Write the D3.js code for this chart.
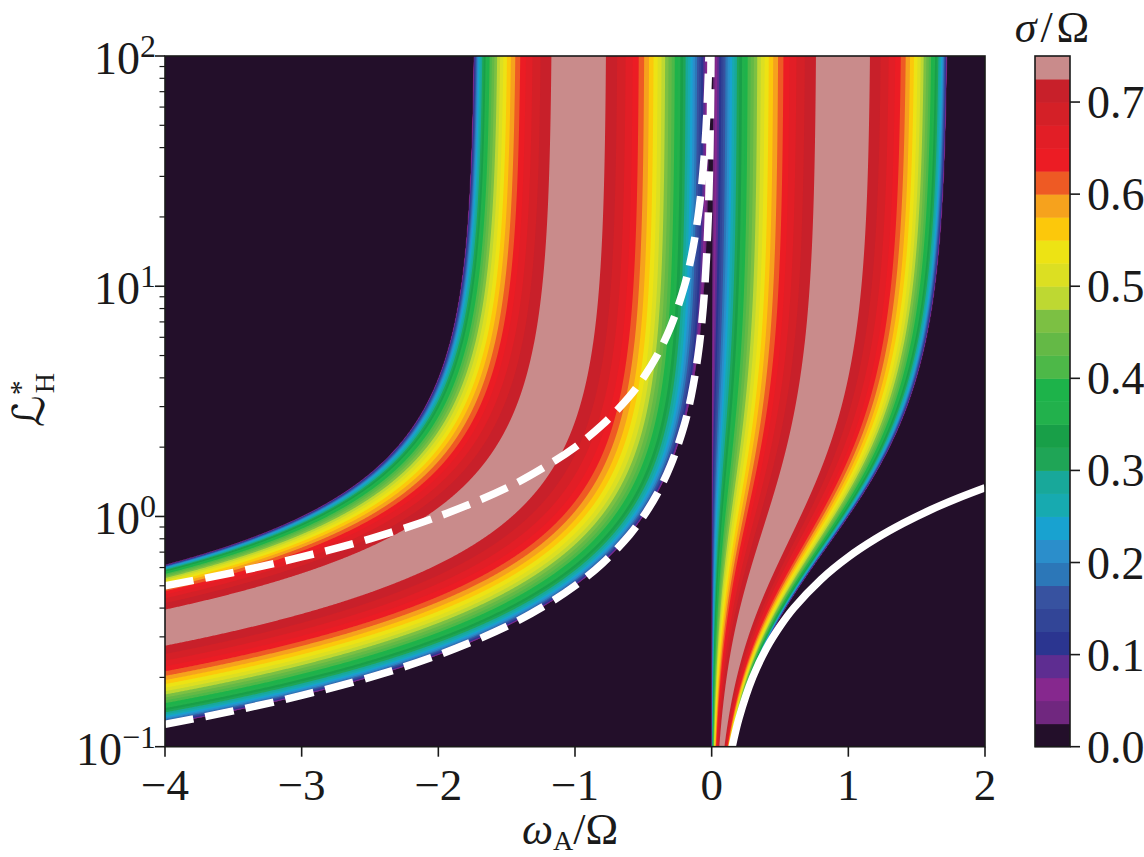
<!DOCTYPE html>
<html lang="en">
<head>
    <meta charset="UTF-8">
    <title>Hall MRI growth rate</title>
    <script src="https://d3js.org/d3.v7.min.js"></script>
    <style>
        body {
            margin: 0;
            background: #ffffff;
        }
        svg text {
            font-family: "Liberation Serif", "DejaVu Serif", serif;
            fill: #1a1a1a;
        }
    </style>
</head>
<body>
    <div id="chart"></div>

    <script>
        // --- data ---
        const xDomain = [-4, 2];            // omega_A / Omega
        const lDomain = [0.1, 100];         // L*_H (log)
        const xTicks = [-4, -3, -2, -1, 0, 1, 2];
        const yTicks = [0.1, 1, 10, 100];
        const yTickExp = ["\u22121", "0", "1", "2"];
        const cbTicks = [0, 0.1, 0.2, 0.3, 0.4, 0.5, 0.6, 0.7];

        // contour levels of sigma/Omega, step 0.025 from 0 to 0.75
        const levels = d3.range(31).map(i => i * 0.025);
        const bandColors = [
            "#230f2a", "#70277f", "#86288e", "#5e2d91", "#2b3590",
            "#324597", "#3752a0", "#2c77b8", "#2b8ecb", "#18a2d0",
            "#17aab0", "#18a89a", "#1fa556", "#189f48", "#22b14c",
            "#1db34a", "#4db848", "#64b946", "#7cc043", "#bed832",
            "#dcdf22", "#ede314", "#fcc80b", "#f6a21d", "#ee5a24",
            "#ec1c24", "#e21e26", "#d42027", "#c8202a", "#c98b8b"
        ];

        // Keplerian shear rate q (Omega = 1)
        const shearQ = 1.5;

        // upper dashed curve
        const dashUpperX = [-4, -3.5, -3, -2.5, -2, -1.5, -1.2, -1, -0.8, -0.6, -0.5, -0.4,
                            -0.3, -0.2, -0.15, -0.1, -0.07, -0.05, -0.035, -0.02];
        const dashUpperL = [0.5, 0.571, 0.667, 0.8, 1.0, 1.33, 1.67, 2.0, 2.5, 3.33, 4.0, 5.0,
                            6.67, 10, 13.3, 20, 28.6, 40, 57, 100];
        // lower dashed curve
        const dashLowerX = [-4, -3.5, -3, -2.5, -2, -1.5, -1.2, -1, -0.8, -0.6, -0.5, -0.4,
                            -0.3, -0.2, -0.15, -0.1, -0.07, -0.05, -0.03, -0.02, -0.01, -0.005];
        const dashLowerL = [0.125, 0.143, 0.167, 0.2, 0.25, 0.333, 0.417, 0.5, 0.625, 0.833, 1.0, 1.25,
                            1.67, 2.5, 3.33, 5, 7.14, 10, 16.7, 25, 50, 100];
        // solid white curve
        const solidX = [0.15, 0.2, 0.3, 0.4, 0.5, 0.6, 0.8, 1.0, 1.2, 1.4, 1.6, 1.8, 2.0];
        const solidL = [0.1, 0.133, 0.2, 0.267, 0.333, 0.4, 0.533, 0.667, 0.8, 0.933, 1.067, 1.2, 1.333];

        // --- layout ---
        const width = 1144, height = 857;
        const plot = { left: 165, right: 985, top: 56, bottom: 746.7 };
        const cb = { left: 1035, right: 1070 };

        const svg = d3.select("#chart").append("svg")
            .attr("width", width)
            .attr("height", height);

        const xScale = d3.scaleLinear().domain(xDomain).range([plot.left, plot.right]);
        const yScale = d3.scaleLog().domain(lDomain).range([plot.bottom, plot.top]);
        const cScale = d3.scaleLinear().domain([0, 0.75]).range([plot.bottom, plot.top]);

        // Hall-MRI dispersion relation: s^2 + B s + C = 0, s = sigma^2, h = omega_H/Omega
        function growthRate(x, L) {
            const h = x / L;
            const P = x * x - 2 * shearQ + 2 * h;
            const Q = x * x + (2 - shearQ) * h;
            const B = P + Q + (h - 2) * (h - 2);
            const C = P * Q;
            const disc = B * B - 4 * C;
            if (disc >= 0) {
                const s = (-B + Math.sqrt(disc)) / 2;
                return s > 0 ? Math.sqrt(s) : 0;
            }
            // complex pair: real part of sqrt
            const re = -B / 2, im = Math.sqrt(-disc) / 2;
            const mod = Math.hypot(re, im);
            return Math.sqrt(Math.max(0, (mod + re) / 2));
        }

        // grid on pixel cells
        const nx = Math.round(plot.right - plot.left);
        const ny = Math.round(plot.bottom - plot.top);
        const dx = (plot.right - plot.left) / nx;
        const dy = (plot.bottom - plot.top) / ny;
        const values = new Float64Array(nx * ny);
        for (let j = 0; j < ny; j++) {
            const L = yScale.invert(plot.top + (j + 0.5) * dy);
            for (let i = 0; i < nx; i++) {
                const x = xScale.invert(plot.left + (i + 0.5) * dx);
                values[j * nx + i] = growthRate(x, L);
            }
        }

        svg.append("clipPath").attr("id", "plotclip")
            .append("rect")
            .attr("x", plot.left).attr("y", plot.top)
            .attr("width", plot.right - plot.left)
            .attr("height", plot.bottom - plot.top);

        // background = lowest band
        svg.append("rect")
            .attr("x", plot.left).attr("y", plot.top)
            .attr("width", plot.right - plot.left)
            .attr("height", plot.bottom - plot.top)
            .attr("fill", bandColors[0]);

        const contours = d3.contours()
            .size([nx, ny])
            .thresholds(levels.slice(1, 30))(values);

        svg.append("g")
            .attr("clip-path", "url(#plotclip)")
            .append("g")
            .attr("transform", `translate(${plot.left},${plot.top}) scale(${dx},${dy})`)
            .selectAll("path")
            .data(contours)
            .join("path")
            .attr("d", d3.geoPath())
            .attr("fill", (d, i) => bandColors[i + 1])
            .attr("stroke", "none");

        // curves
        const line = d3.line()
            .x(d => xScale(d[0]))
            .y(d => yScale(d[1]))
            .curve(d3.curveCatmullRom.alpha(0.5));

        const curves = svg.append("g").attr("clip-path", "url(#plotclip)");
        curves.append("path")
            .attr("d", line(d3.zip(dashUpperX, dashUpperL)))
            .attr("fill", "none").attr("stroke", "#ffffff")
            .attr("stroke-width", 7.5).attr("stroke-dasharray", "29,12");
        curves.append("path")
            .attr("d", line(d3.zip(dashLowerX, dashLowerL)))
            .attr("fill", "none").attr("stroke", "#ffffff")
            .attr("stroke-width", 7.5).attr("stroke-dasharray", "29,12");
        curves.append("path")
            .attr("d", line(d3.zip(solidX, solidL)))
            .attr("fill", "none").attr("stroke", "#ffffff")
            .attr("stroke-width", 7.5);

        // frame
        svg.append("rect")
            .attr("x", plot.left).attr("y", plot.top)
            .attr("width", plot.right - plot.left)
            .attr("height", plot.bottom - plot.top)
            .attr("fill", "none").attr("stroke", "#1a1a1a").attr("stroke-width", 1.6);

        // x axis
        const xAxis = svg.append("g");
        xAxis.selectAll("line").data(xTicks).join("line")
            .attr("x1", d => xScale(d)).attr("x2", d => xScale(d))
            .attr("y1", plot.bottom).attr("y2", plot.bottom + 10)
            .attr("stroke", "#1a1a1a").attr("stroke-width", 1.6);
        xAxis.selectAll("text").data(xTicks).join("text")
            .attr("x", d => xScale(d))
            .attr("y", 800)
            .attr("text-anchor", "middle")
            .attr("font-size", 45)
            .text(d => d < 0 ? "\u2212" + Math.abs(d) : d);

        // y axis, major + minor ticks
        const yAxis = svg.append("g");
        const minor = [];
        for (let e = -1; e < 2; e++) {
            for (let m = 2; m <= 9; m++) minor.push(m * Math.pow(10, e));
        }
        yAxis.selectAll("line.minor").data(minor).join("line")
            .attr("class", "minor")
            .attr("x1", plot.left).attr("x2", plot.left - 5.5)
            .attr("y1", d => yScale(d)).attr("y2", d => yScale(d))
            .attr("stroke", "#1a1a1a").attr("stroke-width", 1.2);
        yAxis.selectAll("line.major").data(yTicks).join("line")
            .attr("class", "major")
            .attr("x1", plot.left).attr("x2", plot.left - 10)
            .attr("y1", d => yScale(d)).attr("y2", d => yScale(d))
            .attr("stroke", "#1a1a1a").attr("stroke-width", 1.6);
        const yLab = yAxis.selectAll("text").data(yTicks).join("text")
            .attr("x", 156)
            .attr("y", d => yScale(d) + 18)
            .attr("text-anchor", "end")
            .attr("font-size", 46);
        yLab.append("tspan").text("10");
        yLab.append("tspan")
            .attr("font-size", 32)
            .attr("dy", -17)
            .text((d, i) => yTickExp[i]);

        // axis labels
        const xl = svg.append("text")
            .attr("x", 570).attr("y", 844)
            .attr("text-anchor", "middle")
            .attr("font-size", 44);
        xl.append("tspan").attr("font-style", "italic").text("\u03c9");
        xl.append("tspan").attr("font-size", 28).attr("dy", 6).text("A");
        xl.append("tspan").attr("dy", -6).text("/\u03a9");

        const yl = svg.append("text")
            .attr("transform", "translate(44,400) rotate(-90)")
            .attr("text-anchor", "middle")
            .attr("font-size", 44);
        yl.append("tspan").style("font-family", "'DejaVu Serif', 'DejaVu Sans', serif")
            .attr("font-style", "italic").text("\u2112");
        yl.append("tspan").attr("font-size", 30).attr("dy", -14).text("*");
        yl.append("tspan").attr("font-size", 28).attr("dx", -13).attr("dy", 24).text("H");

        // colorbar
        const cbar = svg.append("g");
        cbar.selectAll("rect").data(bandColors).join("rect")
            .attr("x", cb.left)
            .attr("width", cb.right - cb.left)
            .attr("y", (d, i) => cScale(levels[i + 1]))
            .attr("height", (d, i) => cScale(levels[i]) - cScale(levels[i + 1]) + 0.5)
            .attr("fill", d => d);
        cbar.append("rect")
            .attr("x", cb.left).attr("y", cScale(0.75))
            .attr("width", cb.right - cb.left)
            .attr("height", cScale(0) - cScale(0.75))
            .attr("fill", "none").attr("stroke", "#1a1a1a").attr("stroke-width", 1.6);
        cbar.selectAll("line").data(cbTicks).join("line")
            .attr("x1", cb.right).attr("x2", cb.right + 10)
            .attr("y1", d => cScale(d)).attr("y2", d => cScale(d))
            .attr("stroke", "#1a1a1a").attr("stroke-width", 1.6);
        cbar.selectAll("text.tick").data(cbTicks).join("text")
            .attr("class", "tick")
            .attr("x", 1087)
            .attr("y", d => cScale(d) + 16)
            .attr("font-size", 46)
            .text(d => d.toFixed(1));

        const ct = svg.append("text")
            .attr("x", 1052).attr("y", 42)
            .attr("text-anchor", "middle")
            .attr("font-size", 44);
        ct.append("tspan").attr("font-style", "italic").text("\u03c3");
        ct.append("tspan").attr("dx", 4).text("/");
        ct.append("tspan").attr("dx", 4).text("\u03a9");
    </script>
</body>
</html>
